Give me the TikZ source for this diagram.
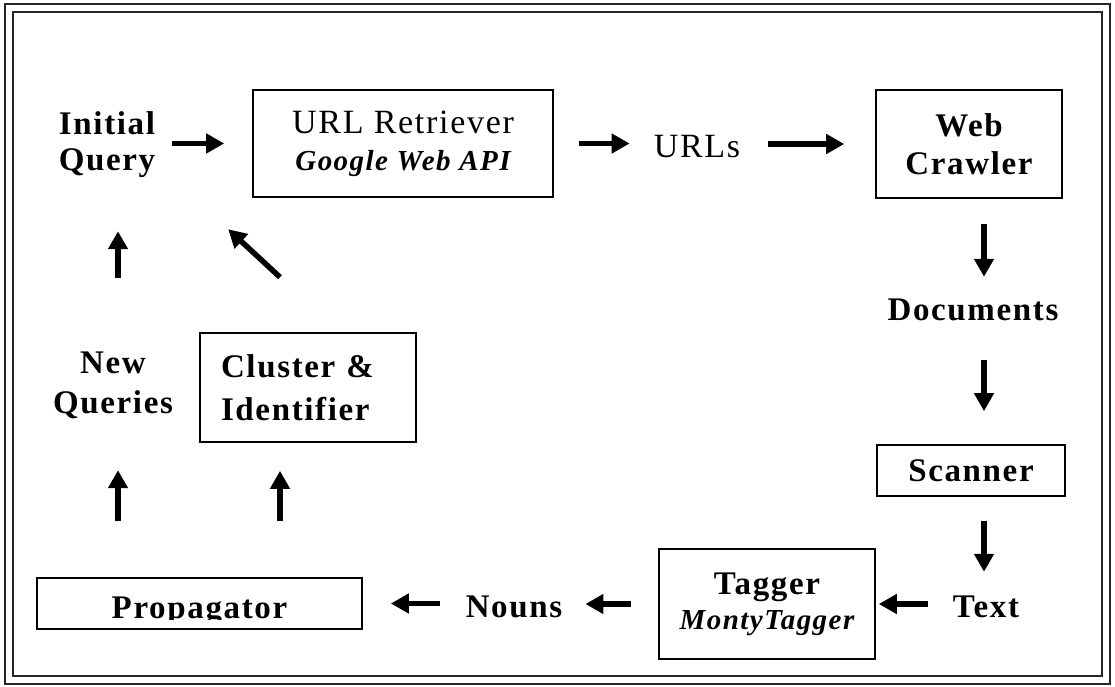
\documentclass[tikz,border=0pt]{standalone}
\usepackage{fontspec}
\setmainfont{Liberation Serif}[LetterSpace=5]
\usetikzlibrary{arrows.meta,calc}
\newcommand{\subf}{\fontsize{29}{32}\selectfont\bfseries\itshape}
\begin{document}
\begin{tikzpicture}[x=1pt,y=-1pt,
  lbl/.style={font=\fontsize{33}{38}\selectfont\bfseries, align=center, inner sep=0pt},
  box/.style={draw, line width=1.6pt, inner sep=0pt, align=center, font=\fontsize{33}{38}\selectfont\bfseries},
  arr/.style={line width=5.5pt, -{Triangle[length=18pt,width=19pt]}},
  frame/.style={line width=1.8pt, black!85}
]
\useasboundingbox (0,0) rectangle (1115,687);
\fill[white] (0,0) rectangle (1115,687);
\draw[frame] (5,4) rectangle (1110,684);
\draw[frame] (13,12) rectangle (1102,676);

% nodes
\node[lbl, minimum width=98pt, minimum height=60pt, font=\fontsize{33}{36}\selectfont\bfseries] (iq) at (107,145) {Initial\\Query};
\node[box, minimum width=300pt, minimum height=107pt, font=\fontsize{34}{37}\selectfont] (url) at (403,143.5) {URL Retriever\\{\subf Google Web API}};
\node[lbl, minimum width=86pt, minimum height=30pt, font=\fontsize{34}{38}\selectfont] (urls) at (697,147) {URLs};
\node[box, minimum width=186pt, minimum height=108pt] (wc) at (969,144) {Web\\Crawler};
\node[lbl, minimum width=170pt, minimum height=30pt] (docs) at (973,310) {Documents};
\node[box, minimum width=188pt, minimum height=51pt] (sc) at (971,470.5) {Scanner};
\node[lbl, minimum width=70pt, minimum height=30pt] (txt) at (986,607) {Text};
\node[box, minimum width=216pt, minimum height=110pt, font=\fontsize{33}{35}\selectfont\bfseries] (tg) at (767,604) {Tagger\\{\subf MontyTagger}};
\node[lbl, minimum width=96pt, minimum height=30pt] (nouns) at (514,607) {Nouns};
\node[box, minimum width=325pt, minimum height=51pt] (pr) at (199.5,603.5) {};
\node[box, inner xsep=21pt, text width=174pt, minimum height=109pt, align=left, font=\fontsize{33}{43}\selectfont\bfseries] (ci) at (308,387.5) {Cluster \&\\Identifier};
\node[lbl, minimum width=118pt, minimum height=80pt, font=\fontsize{33}{40}\selectfont\bfseries] (nq) at (113,385) {New\\Queries};

\begin{scope}
  \clip ($(pr.north west)+(1,1)$) rectangle ($(pr.south east)+(-1,-10)$);
  \node[lbl, anchor=base] (prt) at ($(pr.south)+(0,-11)$) {Propagator};
\end{scope}

% connectors
\draw[arr, shorten <=16pt, shorten >=28pt] (iq.east |- url.west) -- (url.west);
\draw[arr, shorten <=25pt, shorten >=24pt] (url.east) -- (url.east -| urls.west);
\draw[arr, shorten <=28pt, shorten >=31pt] (urls.east |- wc.west) -- (wc.west);
\draw[arr, shorten <=25pt, shorten >=18pt] ([xshift=15pt]wc.south) -- ([xshift=15pt]wc.south |- docs.north);
\draw[arr, shorten <=35pt, shorten >=33pt] ([xshift=11pt]docs.south) -- ([xshift=11pt]docs.south |- sc.north);
\draw[arr, shorten <=24pt, shorten >=20pt] ([xshift=13pt]sc.south) -- ([xshift=13pt]sc.south |- txt.north);
\draw[arr, shorten <=23pt, shorten >=3pt] (txt.west |- tg.east) -- (tg.east);
\draw[arr, shorten <=27pt, shorten >=23pt] (tg.west) -- (tg.west -| nouns.east);
\draw[arr, shorten <=26pt, shorten >=28pt] (nouns.west |- pr.east) -- (pr.east);
\draw[arr, shorten <=56pt, shorten >=45pt] ([xshift=5pt]nq.south |- pr.north) -- ([xshift=5pt]nq.south);
\draw[arr, shorten <=56pt, shorten >=28pt] ([xshift=-28pt]ci.south |- pr.north) -- ([xshift=-28pt]ci.south);
\draw[arr, shorten <=67pt, shorten >=53pt] ([xshift=5pt]nq.north) -- ([xshift=5pt]nq.north |- iq.south);
\draw[arr] ($(ci.north)+(-28,-55)$) -- ($(iq.south east)+(72,51)$);
\end{tikzpicture}
\end{document}
